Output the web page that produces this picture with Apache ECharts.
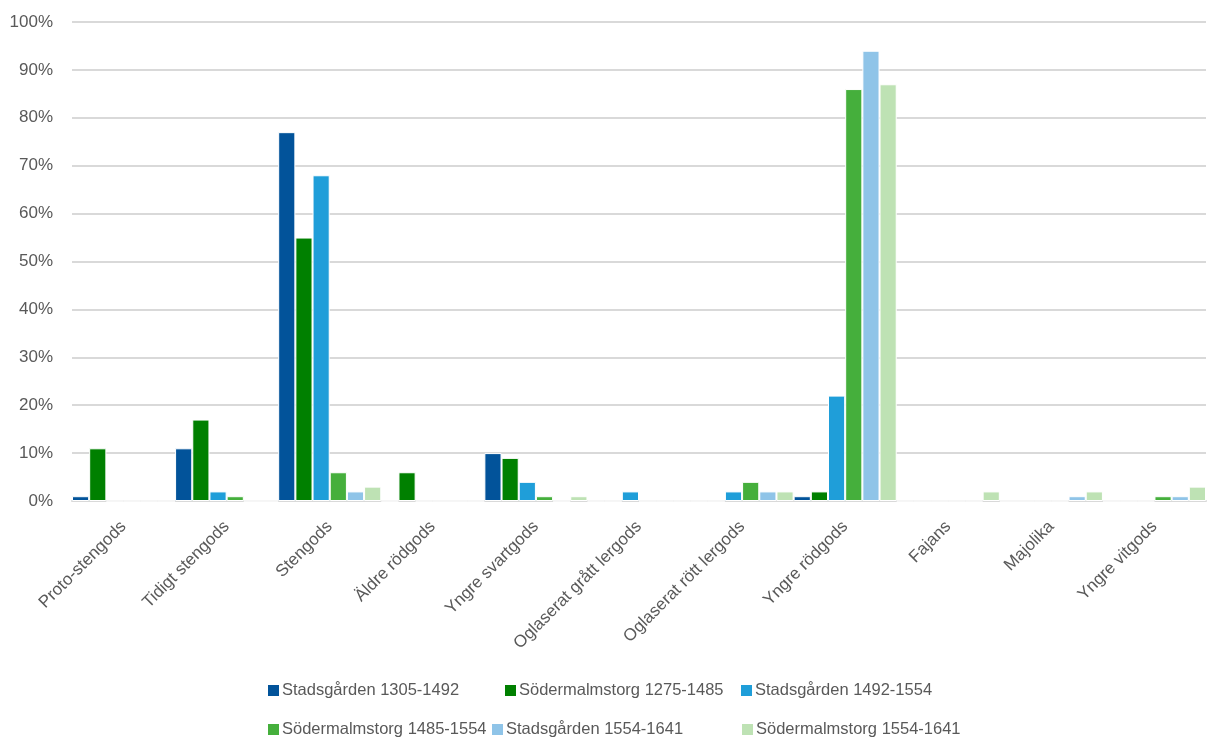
<!DOCTYPE html>
<html>
<head>
<meta charset="utf-8">
<script src="https://cdn.jsdelivr.net/npm/echarts@6/dist/echarts.min.js"></script>
<style>
html,body{margin:0;padding:0;background:#fff;}
#chart{width:1208px;height:740px;}
</style>
</head>
<body>
<div id="chart"></div>
<script>
const categories = ["Proto-stengods","Tidigt stengods","Stengods","Äldre rödgods","Yngre svartgods","Oglaserat grått lergods","Oglaserat rött lergods","Yngre rödgods","Fajans","Majolika","Yngre vitgods"];
const seriesNames = ["Stadsgården 1305-1492","Södermalmstorg 1275-1485","Stadsgården 1492-1554","Södermalmstorg 1485-1554","Stadsgården 1554-1641","Södermalmstorg 1554-1641"];
const stadsgarden1305 = [1, 11, 77, 0, 10, 0, 0, 1, 0, 0, 0];
const sodermalm1275  = [11, 17, 55, 6, 9, 0, 0, 2, 0, 0, 0];
const stadsgarden1492 = [0, 2, 68, 0, 4, 2, 2, 22, 0, 0, 0];
const sodermalm1485  = [0, 1, 6, 0, 1, 0, 4, 86, 0, 0, 1];
const stadsgarden1554 = [0, 0, 2, 0, 0, 0, 2, 94, 0, 1, 1];
const sodermalm1554  = [0, 0, 3, 0, 1, 0, 2, 87, 2, 2, 3];
const yTicks = [0,10,20,30,40,50,60,70,80,90,100];

const colors = ["#02539a","#008000","#1f9ed9","#45af3c","#8fc4e8","#bee2b4"];
const values = [stadsgarden1305, sodermalm1275, stadsgarden1492, sodermalm1485, stadsgarden1554, sodermalm1554];
const textColor = "#595959";
const font = "'Liberation Sans', Arial, sans-serif";

const legendPos = [
  {left:266, top:682}, {left:503, top:682}, {left:739, top:682},
  {left:266, top:721}, {left:490, top:721}, {left:740, top:721}
];

const chart = echarts.init(document.getElementById('chart'), null, {renderer:'canvas'});
chart.setOption({
  animation:false,
  backgroundColor:'#fff',
  color: colors,
  grid:{left:72, right:2, top:22, bottom:239, containLabel:false},
  legend: seriesNames.map((n,i)=>({
    data:[n], left:legendPos[i].left, top:legendPos[i].top, padding:0,
    icon:'rect', itemWidth:13, itemHeight:13, itemGap:0,
    textStyle:{color:textColor, fontSize:16.5, fontFamily:font, padding:[0,0,0,-3]}
  })),
  xAxis:{
    type:'category', data:categories,
    axisLine:{show:true, lineStyle:{color:'#d9d9d9', width:2}},
    axisTick:{show:false},
    axisLabel:{rotate:45, interval:0, margin:23, color:textColor, fontSize:17, fontFamily:font}
  },
  yAxis:{
    type:'value', min:yTicks[0], max:yTicks[yTicks.length-1], interval:10,
    axisLine:{show:false}, axisTick:{show:false},
    splitLine:{lineStyle:{color:'#d9d9d9', width:2}},
    axisLabel:{formatter:'{value}%', margin:19, color:textColor, fontSize:17, fontFamily:font}
  },
  series: seriesNames.map((n,i)=>({
    name:n, type:'bar', data:values[i],
    barGap:'0%', barCategoryGap:'0%',
    itemStyle:{color:colors[i], borderColor:'#fff', borderWidth:1}
  }))
});
</script>
</body>
</html>
